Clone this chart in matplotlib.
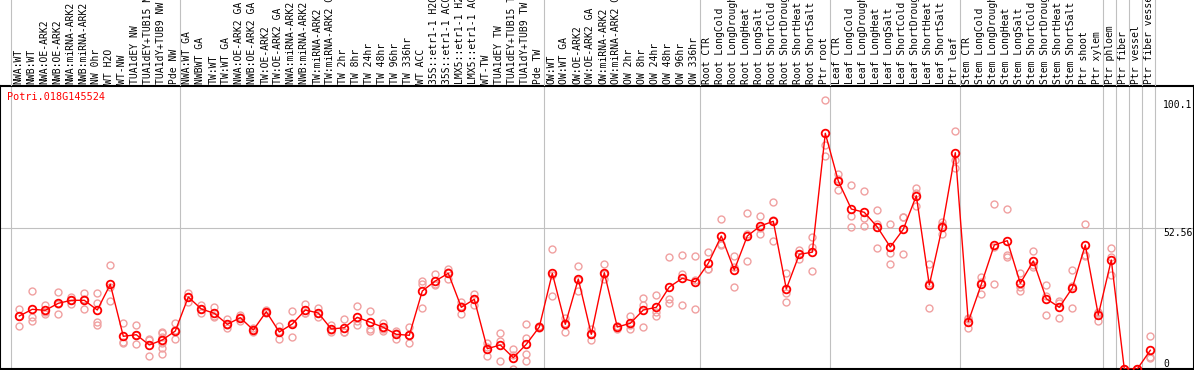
import matplotlib
matplotlib.use('Agg')
import matplotlib.pyplot as plt
import matplotlib.transforms as mtransforms
import numpy as np

W, H = 1194, 370

gene = 'Potri.018G145524'

labels = [
    # NW
    'NWA:WT', 'NWB:WT', 'NWA:OE-ARK2', 'NWB:OE-ARK2', 'NWA:miRNA-ARK2', 'NWB:miRNA-ARK2',
    'NW 0hr', 'WT H2O', 'WT-NW', 'TUA1dEY NW', 'TUA1dEY+TUB15 NW', 'TUA1dY+TUB9 NW', 'Pde NW',
    # TW
    'NWA:WT GA', 'NWBWT GA', 'TW:WT', 'TW:WT GA', 'NWA:OE-ARK2 GA', 'NWB:OE-ARK2 GA',
    'TW:OE-ARK2', 'TW:OE-ARK2 GA', 'NWA:miRNA-ARK2 GA', 'NWB:miRNA-ARK2 GA', 'TW:miRNA-ARK2',
    'TW:miRNA-ARK2 GA', 'TW 2hr', 'TW 8hr', 'TW 24hr', 'TW 48hr', 'TW 96hr', 'TW 336hr',
    'WT ACC', '35S::etr1-1 H2O', '35S::etr1-1 ACC', 'LMX5::etr1-1 H2O', 'LMX5::etr1-1 ACC',
    'WT-TW', 'TUA1dEY TW', 'TUA1dEY+TUB15 TW', 'TUA1dY+TUB9 TW', 'Pde TW',
    # OW
    'OW:WT', 'OW:WT GA', 'OW:OE-ARK2', 'OW:OE-ARK2 GA', 'OW:miRNA-ARK2', 'OW:miRNA-ARK2 GA',
    'OW 2hr', 'OW 8hr', 'OW 24hr', 'OW 48hr', 'OW 96hr', 'OW 336hr',
    # root
    'Root CTR', 'Root LongCold', 'Root LongDrought', 'Root LongHeat', 'Root LongSalt',
    'Root ShortCold', 'Root ShortDrought', 'Root ShortHeat', 'Root ShortSalt', 'Ptr root',
    # leaf
    'Leaf CTR', 'Leaf LongCold', 'Leaf LongDrought', 'Leaf LongHeat', 'Leaf LongSalt',
    'Leaf ShortCold', 'Leaf ShortDrought', 'Leaf ShortHeat', 'Leaf ShortSalt', 'Ptr leaf',
    # stem / tissues
    'Stem CTR', 'Stem LongCold', 'Stem LongDrought', 'Stem LongHeat', 'Stem LongSalt',
    'Stem ShortCold', 'Stem ShortDrought', 'Stem ShortHeat', 'Stem ShortSalt',
    'Ptr shoot', 'Ptr xylem', 'Ptr phloem', 'Ptr fiber', 'Ptr vessel', 'Ptr fiber vessel',
]

means = [
    19.75, 22.25, 21.88, 24.49, 25.61, 25.61, 21.99, 31.57, 12.19, 12.78, 8.95, 10.81, 14.16,
    26.84, 22.36, 20.76, 16.66, 19.12, 14.54, 21.36, 13.79, 16.77, 21.99, 20.87, 14.91, 15.39,
    19.27, 17.41, 15.54, 12.93, 12.56, 29.07, 32.80, 35.67, 23.00, 25.98, 7.57, 8.95, 4.21,
    9.21, 15.65,
    35.67, 16.66, 33.54, 12.93, 35.89, 15.65, 17.03, 21.99, 23.00, 30.56, 33.81, 32.43,
    39.40, 49.57, 36.90, 49.57, 53.30, 55.05, 29.82, 42.75, 43.53, 87.85,
    70.07, 59.63, 58.40, 52.93, 45.47, 52.07, 64.59, 31.31, 52.93, 80.62,
    17.63, 31.57, 46.22, 47.82, 31.94, 40.25, 26.20, 23.00, 30.19, 46.22, 20.13, 40.63,
    0.0, 0.0, 6.97,
]

reps = [
    [22.5, 19.7, 15.9], [29.1, 19.3, 18.0], [23.9, 20.5, 21.4], [28.6, 24.4, 20.5],
    [26.8, 25.8, 24.2], [28.3, 26.0, 22.5], [28.3, 24.7, 17.5, 16.4], [38.8, 30.7, 25.2],
    [17.0, 10.2, 9.8], [16.3, 12.6, 9.4], [11.2, 10.9, 4.7],
    [13.8, 13.3, 12.0, 9.8, 7.7, 5.5], [17.0, 14.4, 11.1],
    [28.4, 27.0, 25.1], [24.0, 22.3, 20.8], [23.1, 19.7, 19.5], [18.5, 16.3, 15.2],
    [20.1, 19.3, 18.0], [15.2, 14.5, 13.9], [22.0, 21.3, 20.8], [16.1, 14.0, 11.3],
    [21.5, 17.0, 11.8], [24.2, 21.0, 20.8], [22.6, 20.7, 19.3], [16.5, 14.5, 13.7],
    [18.5, 13.9, 13.8], [23.4, 18.0, 16.4], [21.5, 15.0, 14.3], [17.3, 15.0, 14.3],
    [14.3, 13.4, 11.1], [15.5, 12.6, 9.6], [32.9, 31.5, 22.8], [35.3, 31.7, 31.4],
    [37.2, 36.3, 33.5], [25.1, 23.4, 20.5], [28.0, 26.0, 23.9], [9.6, 8.1, 5.0],
    [13.4, 10.5, 2.9], [7.3, 5.3, 0.0], [16.7, 11.4, 5.7, 3.1], [16.0, 15.6, 15.3],
    [44.6, 35.2, 27.2], [18.9, 17.2, 13.9], [38.4, 33.1, 29.1], [14.8, 13.2, 10.8],
    [39.0, 35.3, 33.4], [16.2, 16.0, 14.8], [19.8, 16.5, 14.8], [26.4, 23.9, 15.7],
    [27.5, 21.1, 19.8], [41.6, 26.1, 24.5], [42.4, 35.4, 23.7], [42.0, 33.0, 22.3],
    [43.6, 37.4, 37.2], [55.8, 46.7, 46.2], [42.0, 38.2, 30.5], [58.1, 50.3, 40.3],
    [57.0, 52.7, 50.2], [62.1, 55.5, 47.6], [35.7, 28.2, 25.0], [44.4, 43.0, 40.9],
    [49.3, 45.6, 36.5], [100.1, 83.5, 79.4],
    [72.6, 71.0, 66.6], [68.5, 56.9, 52.9], [66.3, 56.2, 53.3], [59.3, 54.0, 45.0],
    [54.0, 43.3, 39.1], [56.8, 56.5, 42.9], [67.3, 65.7, 60.8], [39.0, 32.2, 22.7],
    [54.9, 53.6, 50.3], [88.7, 77.9, 74.8],
    [18.9, 18.8, 15.2], [34.4, 32.5, 27.8], [61.4, 45.6, 31.7], [59.5, 42.5, 41.6],
    [35.9, 30.7, 29.2], [44.0, 38.0, 38.8], [31.3, 27.3, 20.0], [25.5, 24.5, 19.0],
    [36.9, 31.0, 22.7], [54.0, 42.6, 42.1], [21.4, 21.0, 18.0], [45.0, 41.9, 35.0],
    [0.0, 0.0, 0.0], [0.0, 0.0, 0.0], [12.3, 4.4, 4.2],
]

ytick_vals = [0, 52.56, 100.1]
ytick_text = ['0', '52.56', '100.1']
group_ends = [-1, 12, 40, 52, 62, 72, 83, 84, 85, 86, 87]

plt.rcParams['font.family'] = 'DejaVu Sans Mono'
fs = 7

fig = plt.figure(figsize=(W / 100, H / 100), dpi=100)
fig.patch.set_facecolor('white')

x0, step = 19.3, 13.0
xlim = (-x0 / step, (W - x0) / step)
top_px, bot_px = 86, 369
ppu = 2.683

ax = fig.add_axes([0, (H - bot_px) / H, 1, (bot_px - top_px) / H])
ax.set_xlim(*xlim)
ax.set_ylim(0, (bot_px - top_px) / ppu)
ax.set_xticks([])
ax.set_yticks([])
for s in ax.spines.values():
    s.set_color('black')
    s.set_linewidth(1.5)

hx = fig.add_axes([0, (H - top_px) / H, 1, top_px / H])
hx.set_xlim(*xlim)
hx.set_ylim(0, top_px)
hx.axis('off')

xs = np.arange(len(labels))

for g in group_ends:
    ax.axvline(g + 0.36, color='#c0c0c0', lw=0.8, zorder=0)
    hx.axvline(g + 0.36, color='#c0c0c0', lw=0.8, zorder=0)
ax.axhline(52.56, color='#c0c0c0', lw=0.8, zorder=0)

for i, r in enumerate(reps):
    ax.plot([i] * len(r), r, 'o', ms=5, mfc='none', mec='#f0a0a0', mew=1,
            zorder=2, clip_on=True)

ax.plot(xs, means, '-', color='red', lw=1, zorder=3)
ax.plot(xs, means, 'o', ms=5.5, mfc='none', mec='red', mew=1.3, zorder=4)

for i, lab in enumerate(labels):
    hx.text(i - 0.08, 2, lab, rotation=90, ha='center', va='bottom', fontsize=fs,
            color='black')

trans = mtransforms.blended_transform_factory(ax.transAxes, ax.transData)
for v, t in zip(ytick_vals, ytick_text):
    ax.text(1163 / W, v, t, transform=trans, ha='left',
            va='bottom' if v == 0 else 'top', fontsize=fs)

fig.text(7 / W, 1 - 97 / H, gene, color='red', fontsize=7.3, ha='left', va='center')

fig.savefig('out.png', dpi=100)
